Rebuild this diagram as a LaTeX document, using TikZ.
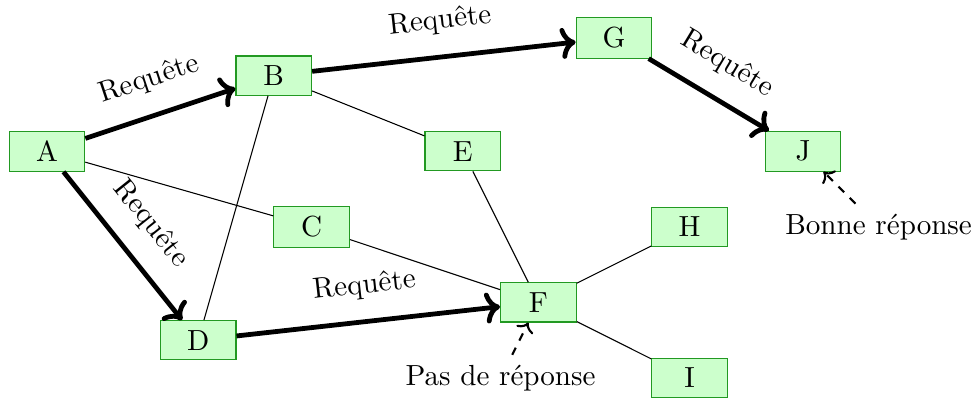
\documentclass[11pt,tikz,border=0pt]{standalone}
\usepackage{tikz}
\usetikzlibrary{arrows.meta,positioning}
\definecolor{PosteFill}{HTML}{CCFFCC}
\definecolor{PosteBord}{HTML}{229922}

\begin{document}
\begin{tikzpicture}[x=0.5cm,y=0.5cm,
    poste/.style={draw=PosteBord,fill=PosteFill,
                  minimum width=1cm,minimum height=0.5cm},
    requete/.style={->,line width=1.8pt},
    reponse/.style={->,thick,dashed},
    etiq/.style={sloped,above=4pt}]
  \useasboundingbox (-1.243,-6.61) rectangle (24.524,4);
  % les postes
  \node[poste] (A) at (0,0)   {A};
  \node[poste] (B) at (6,2)   {B};
  \node[poste] (C) at (7,-2)  {C};
  \node[poste] (D) at (4,-5)  {D};
  \node[poste] (E) at (11,0)  {E};
  \node[poste] (F) at (13,-4) {F};
  \node[poste] (G) at (15,3)  {G};
  \node[poste] (H) at (17,-2) {H};
  \node[poste] (I) at (17,-6) {I};
  \node[poste] (J) at (20,0)  {J};
  \node (bonne) at (22,-2) {Bonne réponse};
  \node (pas)   at (12,-6) {Pas de réponse};
  % liens
  \draw (A) -- (C);
  \draw (C) -- (F);
  \draw (B) -- (D);
  \draw (B) -- (E);
  \draw (E) -- (F);
  \draw (F) -- (H);
  \draw (F) -- (I);
  % requetes
  \draw[requete] (A) -- node[etiq] {Requête} (B);
  \draw[requete] (B) -- node[etiq] {Requête} (G);
  \draw[requete] (G) -- node[etiq] {Requête} (J);
  \draw[requete] (A) -- node[etiq] {Requête} (D);
  \draw[requete] (D) -- node[etiq] {Requête} (F);
  % reponses
  \draw[reponse] (bonne) -- (J);
  \draw[reponse] (pas) -- (F);
\end{tikzpicture}
\end{document}
